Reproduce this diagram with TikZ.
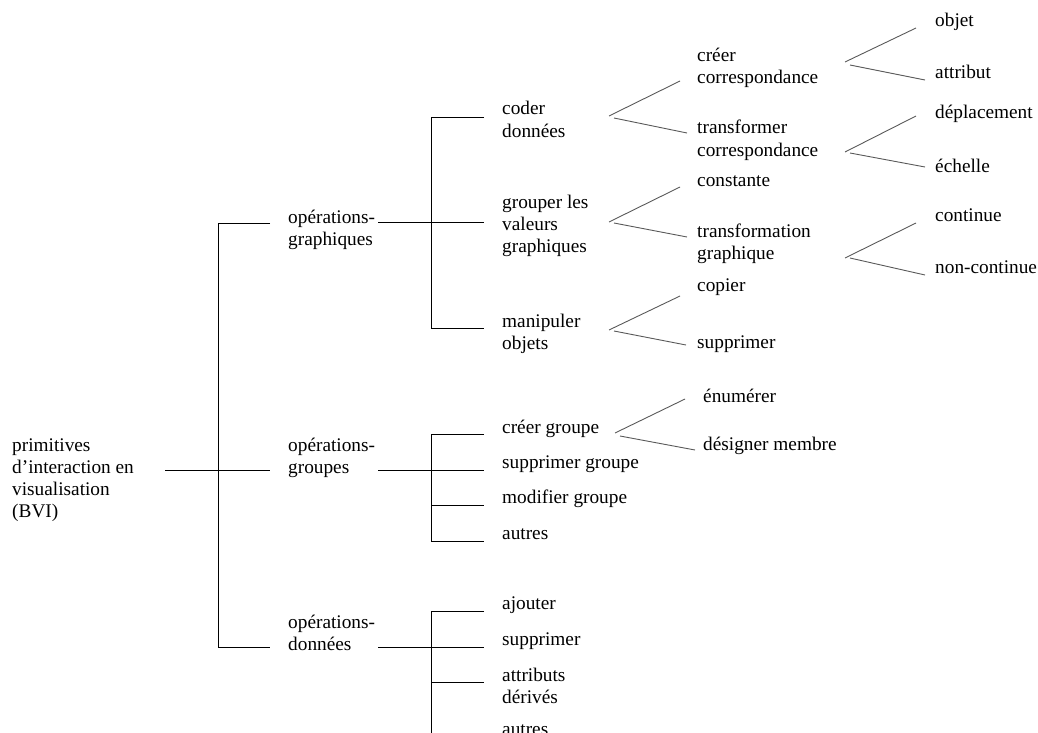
\documentclass[tikz,border=0pt]{standalone}
\usepackage{fontspec}
\setmainfont{Liberation Serif}
\begin{document}
\begin{tikzpicture}[x=1pt,y=-1pt,
    lbl/.style={anchor=base west,align=left,inner sep=0pt,font=\fontsize{19.3}{22}\selectfont},
    brk/.style={draw=black,line width=0.9pt},
    fan/.style={draw=black!65,line width=0.9pt}]
            \useasboundingbox (0,0) rectangle (1038,733);

            \node[lbl] (bvi) at (12,517) {primitives\\d’interaction en\\visualisation\\(BVI)};
            \node[lbl] (opgra) at (288,245) {opérations-\\graphiques};
            \node[lbl] (opgrp) at (288,473) {opérations-\\groupes};
            \node[lbl] (opdon) at (288,650) {opérations-\\données};

            \node[lbl] (coder) at (502,137) {coder\\données};
            \node[lbl] (grouper) at (502,252) {grouper les\\valeurs\\graphiques};
            \node[lbl] (manip) at (502,349) {manipuler\\objets};
            \node[lbl] (creergrp) at (502,433) {créer groupe};
            \node[lbl] (supgrp) at (502,468) {supprimer groupe};
            \node[lbl] (modgrp) at (502,503) {modifier groupe};
            \node[lbl] (autgrp) at (502,539) {autres};
            \node[lbl] (ajout) at (502,609) {ajouter};
            \node[lbl] (supdon) at (502,645) {supprimer};
            \node[lbl] (attrder) at (502,703) {attributs\\dérivés};
            \node[lbl] (autdon) at (502,735) {autres};

            \node[lbl] (creercor) at (697,84) {créer\\correspondance};
            \node[lbl] (transcor) at (697,156) {transformer\\correspondance};
            \node[lbl] (const) at (697,186) {constante};
            \node[lbl] (transgra) at (697,259) {transformation\\graphique};
            \node[lbl] (copier) at (697,291) {copier};
            \node[lbl] (supobj) at (697,348) {supprimer};
            \node[lbl] (enum) at (703,402) {énumérer};
            \node[lbl] (desig) at (703,450) {désigner membre};

            \node[lbl] (objet) at (935,27) {objet};
            \node[lbl] (attrib) at (935,79) {attribut};
            \node[lbl] (deplac) at (935,118) {déplacement};
            \node[lbl] (echelle) at (935,172) {échelle};
            \node[lbl] (cont) at (935,221) {continue};
            \node[lbl] (noncont) at (935,273) {non-continue};

            \coordinate (R0) at (165,470);
            \coordinate (R1) at (270,470);
            \coordinate (S1) at (218,223);
            \coordinate (S2) at (218,647);
            \coordinate (S1e) at (270,223);
            \coordinate (S2e) at (270,647);

            \coordinate (G0) at (378,222);
            \coordinate (G1) at (431,117);
            \coordinate (G3) at (431,328);
            \coordinate (G1e) at (484,117);
            \coordinate (G2e) at (484,222);
            \coordinate (G3e) at (484,328);

            \coordinate (P0) at (378,470);
            \coordinate (P1) at (431,434);
            \coordinate (P3) at (431,505);
            \coordinate (P4) at (431,541);
            \coordinate (P1e) at (484,434);
            \coordinate (P2e) at (484,470);
            \coordinate (P3e) at (484,505);
            \coordinate (P4e) at (484,541);

            \coordinate (D0) at (378,647);
            \coordinate (D1) at (431,611);
            \coordinate (D3) at (431,682);
            \coordinate (D4) at (431,740);
            \coordinate (D1e) at (484,611);
            \coordinate (D2e) at (484,647);
            \coordinate (D3e) at (484,682);
            \coordinate (D4e) at (484,740);

            \draw[brk] (R0)--(R1);
            \draw[brk] (S1e)--(S1)--(S2)--(S2e);

            \draw[brk] (G0)--(G2e);
            \draw[brk] (G1e)--(G1)--(G3)--(G3e);

            \draw[brk] (P0)--(P2e);
            \draw[brk] (P1e)--(P1)--(P4)--(P4e);
            \draw[brk] (P3)--(P3e);

            \draw[brk] (D0)--(D2e);
            \draw[brk] (D1e)--(D1)--(D4)--(D4e);
            \draw[brk] (D3)--(D3e);

            \draw[fan] (609,116)--(680,81);
            \draw[fan] (614,118)--(687,133);
            \draw[fan] (609,222)--(680,187);
            \draw[fan] (614,223)--(687,237);
            \draw[fan] (609,330)--(680,296);
            \draw[fan] (614,331)--(686,345);
            \draw[fan] (615,433)--(685,399);
            \draw[fan] (620,436)--(695,450);

            \draw[fan] (845,62)--(916,28);
            \draw[fan] (850,65)--(925,80);
            \draw[fan] (845,152)--(916,116);
            \draw[fan] (850,153)--(925,167);
            \draw[fan] (845,258)--(916,223);
            \draw[fan] (850,258)--(925,275);
        \end{tikzpicture}
\end{document}
